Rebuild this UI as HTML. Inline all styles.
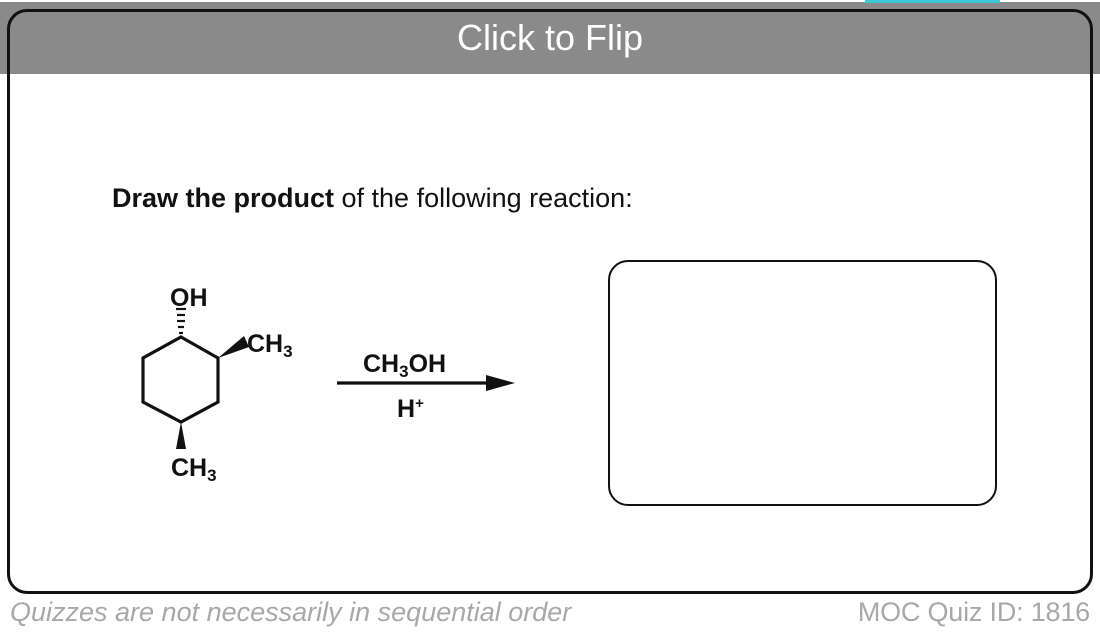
<!DOCTYPE html>
<html><head><style>
body{margin:0;width:1100px;height:634px;background:#fff;position:relative;overflow:hidden;font-family:"Liberation Sans",sans-serif}
.gray{position:absolute;left:0;top:2px;width:1100px;height:72px;background:#8a8a8a}
.tab{position:absolute;left:865px;top:0;width:135px;height:3px;background:#3cc8d8}
.box{position:absolute;left:7px;top:9px;width:1080px;height:579px;border:3px solid #111;border-radius:20px}
.title{position:absolute;left:0;width:1100px;top:17px;text-align:center;color:#fff;font-size:36px}
.q{position:absolute;left:112px;top:183px;font-size:27px;color:#111;letter-spacing:0px}
.ans{position:absolute;left:608px;top:260px;width:385px;height:242px;border:2.5px solid #111;border-radius:20px}
.f1{position:absolute;left:10px;top:597px;font-size:27px;font-style:italic;color:#a8a8a8;letter-spacing:0px}
.f2{position:absolute;right:10px;top:597px;font-size:27px;color:#a8a8a8;letter-spacing:-0.2px}
</style></head><body>
<div class="gray"></div><div class="tab"></div>
<div class="box"></div>
<div class="title">Click to Flip</div>
<div class="q"><b>Draw the product</b> of the following reaction:</div>
<svg style="position:absolute;left:0;top:0" width="1100" height="634">
<g stroke="#111" stroke-width="3.2" fill="none">
<polygon points="181,337 218,358 218,402 181,422 143,402 143,358"/>
<line x1="337" y1="383" x2="495" y2="383"/>
</g>
<polygon points="515,383 486,375 486,391" fill="#111"/>
<polygon points="218,358 244,336 249,347" fill="#111"/>
<polygon points="181,422 176,449 186,449" fill="#111"/>
<g stroke="#111" stroke-width="2.2">
<line x1="179" y1="333" x2="183" y2="333"/><line x1="178" y1="327" x2="184" y2="327"/><line x1="177" y1="321" x2="185" y2="321"/><line x1="177" y1="315" x2="185" y2="315"/><line x1="176" y1="309" x2="186" y2="309"/>
</g>
<g font-family="Liberation Sans" font-weight="bold" fill="#111" font-size="25">
<text x="170" y="306">OH</text>
<text x="247" y="352">CH<tspan font-size="17" dy="5">3</tspan></text>
<text x="171" y="476">CH<tspan font-size="17" dy="5">3</tspan></text>
<text x="363" y="372">CH<tspan font-size="17" dy="5">3</tspan><tspan dy="-5">OH</tspan></text>
<text x="397" y="417">H<tspan font-size="15" dy="-9">+</tspan></text>
</g>
</svg>
<div class="ans"></div>
<div class="f1">Quizzes are not necessarily in sequential order</div>
<div class="f2">MOC Quiz ID: 1816</div>
</body></html>
